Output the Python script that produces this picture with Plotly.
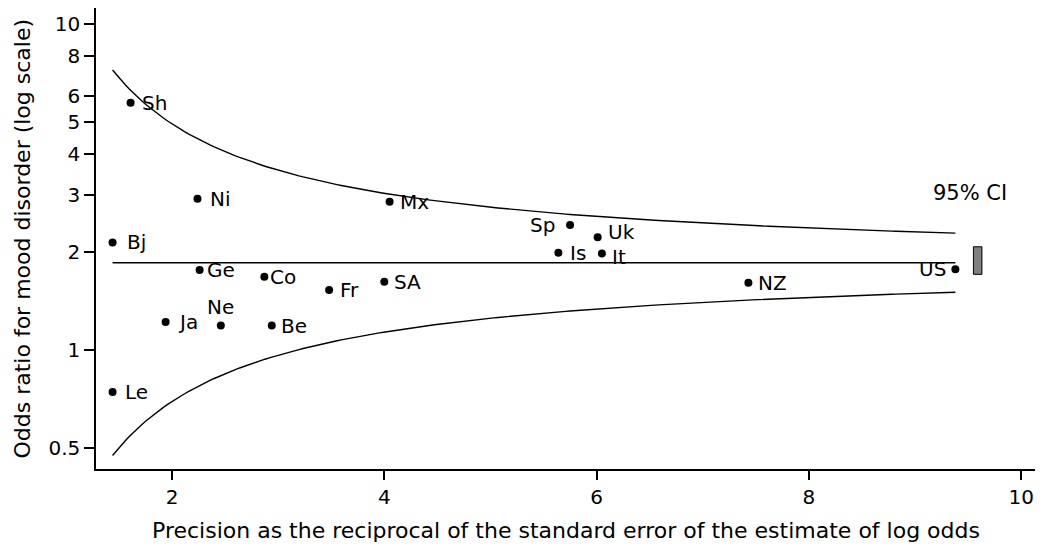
import numpy as np
import plotly.graph_objects as go

# ---- data ----
countries = ["Sh", "Ni", "Mx", "Bj", "Sp", "Uk", "Is", "It", "Ge", "Co",
             "Fr", "SA", "NZ", "US", "Ja", "Ne", "Be", "Le"]
precision = [1.61, 2.24, 4.05, 1.44, 5.75, 6.01, 5.64, 6.05, 2.26, 2.87,
             3.48, 4.00, 7.43, 9.38, 1.94, 2.46, 2.94, 1.44]
odds_ratio = [5.74, 2.91, 2.85, 2.14, 2.42, 2.22, 1.99, 1.98, 1.76, 1.68,
              1.53, 1.62, 1.61, 1.77, 1.22, 1.19, 1.19, 0.744]
pooled_or = 1.854
pooled_ci = [1.708, 2.075]
z_value = 1.96
x_ticks = [2, 4, 6, 8, 10]
y_ticks = [0.5, 1, 2, 3, 4, 5, 6, 8, 10]
y_tick_text = ["0.5", "1", "2", "3", "4", "5", "6", "8", "10"]

# ---- label placement (style only) ----
label_pos = {  # (xanchor, xshift px, yshift px)
    "Sh": ("left", 10, 0), "Ni": ("left", 12, 0), "Mx": ("left", 9, 0),
    "Bj": ("left", 13, 0), "Sp": ("right", -14, 0), "Uk": ("left", 9, 5),
    "Is": ("left", 11, 0), "It": ("left", 9, -4), "Ge": ("left", 6, 0),
    "Co": ("left", 5, 0), "Fr": ("left", 10, 0), "SA": ("left", 9, 0),
    "NZ": ("left", 9, 0), "US": ("right", -8, 0), "Ja": ("left", 11, 0),
    "Ne": ("center", 0, 19), "Be": ("left", 8, 0), "Le": ("left", 11, 0),
}

FONT = "DejaVu Sans"
fig = go.Figure()

# funnel (95% limits around pooled estimate)
xs = np.linspace(min(precision), max(precision), 200)
theta = np.log(pooled_or)
upper = np.exp(theta + z_value / xs)
lower = np.exp(theta - z_value / xs)
line_style = dict(color="black", width=1.4)
fig.add_trace(go.Scatter(x=xs, y=upper, mode="lines", line=line_style, hoverinfo="skip"))
fig.add_trace(go.Scatter(x=xs, y=lower, mode="lines", line=line_style, hoverinfo="skip"))
fig.add_trace(go.Scatter(x=[min(precision), max(precision)], y=[pooled_or, pooled_or],
                         mode="lines", line=line_style, hoverinfo="skip"))

# points
fig.add_trace(go.Scatter(x=precision, y=odds_ratio, mode="markers",
                         marker=dict(color="black", size=8), hoverinfo="skip"))

# CI box
cx0, cx1 = 9.55, 9.63
fig.add_trace(go.Scatter(x=[cx0, cx1, cx1, cx0, cx0],
                         y=[pooled_ci[0], pooled_ci[0], pooled_ci[1], pooled_ci[1], pooled_ci[0]],
                         mode="lines", fill="toself", fillcolor="#7f7f7f",
                         line=dict(color="black", width=1), hoverinfo="skip"))

annotations = []
for c, x, y in zip(countries, precision, odds_ratio):
    anchor, dx, dy = label_pos[c]
    annotations.append(dict(x=x, y=np.log10(y), xref="x", yref="y", text=c,
                            showarrow=False, xanchor=anchor, yanchor="middle",
                            xshift=dx, yshift=dy, borderpad=0,
                            font=dict(family=FONT, size=20, color="black")))
annotations.append(dict(x=9.52, y=np.log10(3.03), xref="x", yref="y", text="95% CI",
                        showarrow=False, xanchor="center", yanchor="middle",
                        font=dict(family=FONT, size=21, color="black")))
annotations.append(dict(x=0.5, y=0, xref="paper", yref="paper",
                        text="Precision as the reciprocal of the standard error of the estimate of log odds",
                        showarrow=False, xanchor="center", yanchor="middle", yshift=-61,
                        font=dict(family=FONT, size=22, color="black")))
annotations.append(dict(x=0, y=0.5, xref="paper", yref="paper",
                        text="Odds ratio for mood disorder (log scale)", textangle=-90,
                        showarrow=False, xanchor="center", yanchor="middle", xshift=-74,
                        font=dict(family=FONT, size=22, color="black")))

# page body has an 8px default margin, so the figure is sized to fit inside it
fig.update_layout(
    width=1042, height=545,
    margin=dict(l=88, r=15, t=0, b=84),
    paper_bgcolor="white", plot_bgcolor="white",
    showlegend=False,
    annotations=annotations,
    font=dict(family=FONT, size=20, color="black"),
)
fig.update_xaxes(range=[1.284, 10.13], tickvals=x_ticks, ticks="outside", ticklen=9,
                 tickwidth=1.5, tickcolor="black", showline=True, linecolor="black",
                 linewidth=1.5, showgrid=False, zeroline=False,
                 tickfont=dict(family=FONT, size=20, color="black"))
fig.update_yaxes(type="log", range=[np.log10(0.432), np.log10(11.2)], tickvals=y_ticks,
                 ticktext=y_tick_text, ticks="outside", ticklen=10, tickwidth=1.5,
                 tickcolor="black", showline=True, linecolor="black", linewidth=1.5,
                 showgrid=False, zeroline=False,
                 tickfont=dict(family=FONT, size=20, color="black"))

fig.write_html("out.html")
